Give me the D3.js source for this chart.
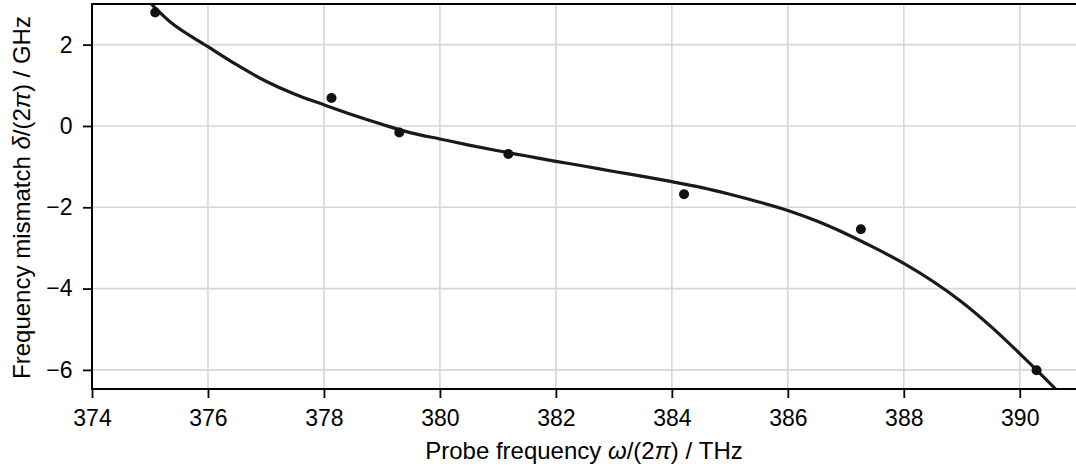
<!DOCTYPE html>
<html>
<head>
<meta charset="utf-8">
<script src="https://cdn.jsdelivr.net/npm/d3@7"></script>
<style>
  html, body { margin: 0; padding: 0; background: #fff; }
  #chart { width: 1076px; height: 469px; }
  svg text { font-family: "Liberation Sans", Arial, sans-serif; fill: #000; }
</style>
</head>
<body>
<div id="chart"></div>
<script>
// measured points
const pointFreq = [375.09, 378.13, 379.30, 381.18, 384.21, 387.26, 390.29];
const pointDelta = [2.79, 0.69, -0.16, -0.69, -1.68, -2.54, -6.01];

// fitted curve
const fitFreq = [374.9, 375.4, 376.0, 376.5, 377.0, 377.5, 378.0, 378.5, 379.0, 379.5,
                 380.0, 380.5, 381.0, 381.5, 382.0, 382.5, 383.0, 383.5, 384.0, 384.5,
                 385.0, 385.5, 386.0, 386.5, 387.0, 387.5, 388.0, 388.5, 389.0, 389.5,
                 390.0, 390.5, 390.8];
const fitDelta = [3.18, 2.50, 1.95, 1.50, 1.10, 0.78, 0.52, 0.27, 0.04, -0.17,
                  -0.32, -0.47, -0.61, -0.74, -0.87, -0.99, -1.12, -1.24, -1.37, -1.51,
                  -1.68, -1.87, -2.08, -2.34, -2.65, -3.00, -3.38, -3.82, -4.33, -4.93,
                  -5.60, -6.30, -6.74];

const xTicks = [374, 376, 378, 380, 382, 384, 386, 388, 390];
const yTicks = [-6, -4, -2, 0, 2];

const margin = { top: 4, right: 0, bottom: 80, left: 92 };
const W = 1076, H = 469;
const width = W - margin.left - margin.right;
const height = H - margin.top - margin.bottom;

const svg = d3.select("#chart").append("svg")
    .attr("width", W).attr("height", H);
const g = svg.append("g").attr("transform", `translate(${margin.left},${margin.top})`);

const x = d3.scaleLinear().domain([374, 390.97]).range([0, width]);
const y = d3.scaleLinear().domain([-6.47, 3.0]).range([height, 0]);

svg.append("defs").append("clipPath").attr("id", "clip")
  .append("rect").attr("width", width).attr("height", height);

// grid
g.append("g").selectAll("line").data(xTicks).join("line")
    .attr("x1", d => x(d)).attr("x2", d => x(d))
    .attr("y1", 0).attr("y2", height)
    .attr("stroke", "#d6d6d6").attr("stroke-width", 1.6);
g.append("g").selectAll("line").data(yTicks).join("line")
    .attr("x1", 0).attr("x2", width)
    .attr("y1", d => y(d)).attr("y2", d => y(d))
    .attr("stroke", "#d6d6d6").attr("stroke-width", 1.6);

// fit curve
const fit = fitFreq.map((f, i) => ({ f, d: fitDelta[i] }));
g.append("path").datum(fit)
    .attr("clip-path", "url(#clip)")
    .attr("fill", "none")
    .attr("stroke", "#1a1a1a")
    .attr("stroke-width", 3.2)
    .attr("stroke-linejoin", "round")
    .attr("d", d3.line().x(d => x(d.f)).y(d => y(d.d)).curve(d3.curveCatmullRom));

// points
g.append("g").selectAll("circle").data(pointFreq.map((f, i) => ({ f, d: pointDelta[i] })))
  .join("circle")
    .attr("cx", d => x(d.f)).attr("cy", d => y(d.d))
    .attr("r", 5).attr("fill", "#111");

// axes
const fmt = d => d < 0 ? "\u2212" + Math.abs(d) : String(d);
const xAxis = g.append("g").attr("transform", `translate(0,${height})`)
    .call(d3.axisBottom(x).tickValues(xTicks).tickSize(9).tickPadding(11.5).tickFormat(fmt));
const yAxis = g.append("g")
    .call(d3.axisLeft(y).tickValues(yTicks).tickSize(9).tickPadding(10.5).tickFormat(fmt));
[xAxis, yAxis].forEach(a => {
  a.attr("font-size", null).attr("font-family", null);
  a.selectAll("text").style("font-size", "23px");
  a.selectAll(".tick line").attr("stroke", "#000").attr("stroke-width", 1.8);
  a.select(".domain").remove();
});

// spines: left, bottom, top
[[0, 0, 0, height], [0, width, height, height], [0, width, 0, 0]].forEach(([x1, x2, y1, y2]) => {
  g.append("line").attr("x1", x1).attr("x2", x2).attr("y1", y1).attr("y2", y2)
      .attr("stroke", "#000").attr("stroke-width", 2).attr("stroke-linecap", "square");
});

// labels
const xl = svg.append("text")
    .attr("x", margin.left + width / 2).attr("y", 459)
    .attr("text-anchor", "middle").style("font-size", "24px");
xl.append("tspan").text("Probe frequency ");
xl.append("tspan").style("font-style", "italic").text("\u03c9");
xl.append("tspan").text("/(2");
xl.append("tspan").style("font-style", "italic").text("\u03c0");
xl.append("tspan").text(") / THz");

const yl = svg.append("text")
    .attr("transform", `translate(30,${margin.top + height / 2 + 1}) rotate(-90)`)
    .attr("text-anchor", "middle").style("font-size", "24px");
yl.append("tspan").text("Frequency mismatch ");
yl.append("tspan").style("font-style", "italic").text("\u03b4");
yl.append("tspan").text("/(2");
yl.append("tspan").style("font-style", "italic").text("\u03c0");
yl.append("tspan").text(") / GHz");
</script>
</body>
</html>
